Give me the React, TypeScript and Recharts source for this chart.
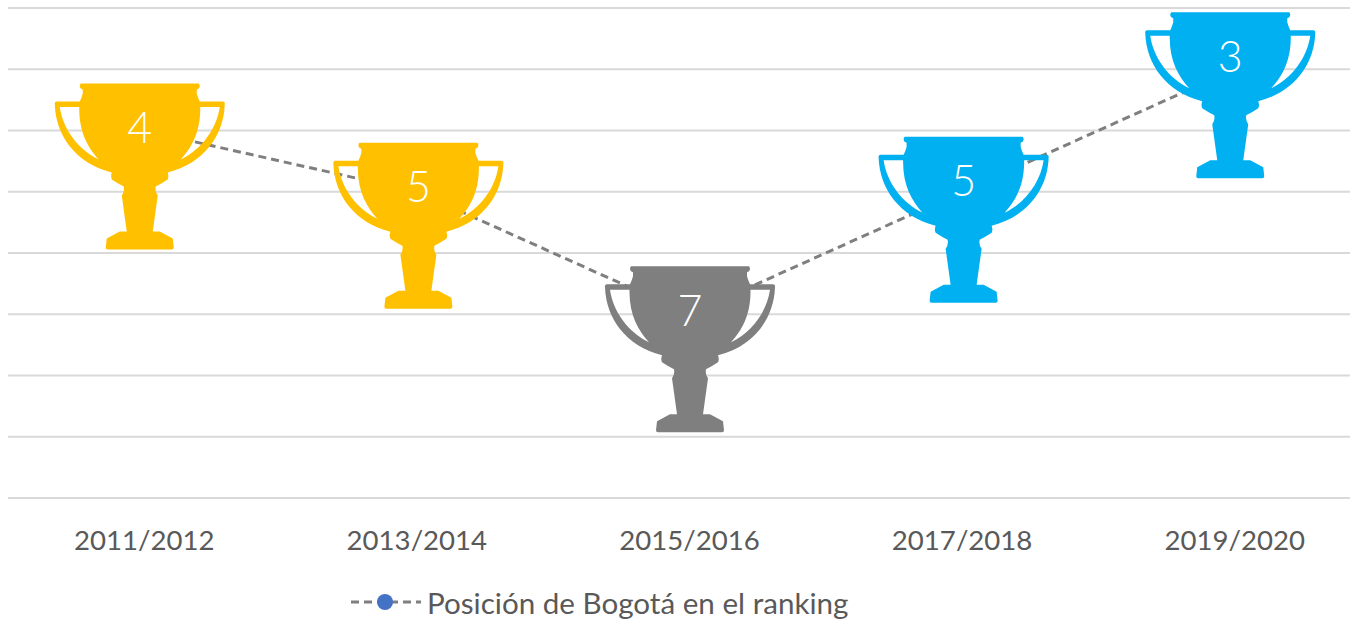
import React from "react";
import { LineChart, Line, XAxis, YAxis, CartesianGrid, Legend } from "recharts";

const seasons = ["2011/2012", "2013/2014", "2015/2016", "2017/2018", "2019/2020"];
const rankings = [4, 5, 7, 5, 3];
const seriesName = "Posición de Bogotá en el ranking";
const rankTicks = [2, 3, 4, 5, 6, 7, 8, 9, 10];

const trophyColors = ["#FFC000", "#FFC000", "#7F7F7F", "#00B0F0", "#00B0F0"];
const trophyNudgeX = [-4.5, 1.5, 0.5, 1.5, -4.5];
const trophyNudgeY = [-47, -49, -48, -55, -57];

const rows = seasons.map((season, i) => ({ season, rank: rankings[i] }));

const FONT = "Lato, 'Open Sans', sans-serif";
const TEXT = "#595959";
const LINE = "#7F7F7F";

const TROPHY =
  "M-59,0 L59,0 Q61,2.5 59,5 L57,6 L57,10 Q58,14 60,18 L83,18 Q85.5,18 85,21 C84,52 64,80 28,89 " +
  "Q29.5,93 28,96 Q22,100 16,103 Q15,108 18,112 L13,148 L20,148 L33,155 L34,164 Q34,166 32,166 " +
  "L-32,166 Q-34,166 -34,164 L-33,155 L-20,148 L-13,148 L-18,112 Q-15,108 -16,103 Q-22,100 -28,96 " +
  "Q-29.5,93 -28,89 C-64,80 -84,52 -85,21 Q-85.5,18 -83,18 L-60,18 Q-58,14 -57,10 L-57,6 L-59,5 Q-61,2.5 -59,0 Z " +
  "M-80,23.5 L-60.5,23.5 C-61,48 -52,64 -41,76 C-62,66 -77,45 -80,23.5 Z " +
  "M80,23.5 L60.5,23.5 C61,48 52,64 41,76 C62,66 77,45 80,23.5 Z";

const TrophyDot = (props: any) => {
  const { cx, cy, index, payload } = props;
  const x = cx + trophyNudgeX[index];
  const y = cy + trophyNudgeY[index];
  return (
    <g transform={`translate(${x},${y})`}>
      <path d={TROPHY} fill={trophyColors[index]} fillRule="evenodd" />
      <text x={0} y={43} textAnchor="middle" dominantBaseline="central" fill="#FFFFFF" fontSize={43} fontWeight={300} fontFamily={FONT}>
        {payload.rank}
      </text>
    </g>
  );
};

const LegendContent = (props: any) => {
  const entry = props.payload?.[0];
  return (
    <div style={{ display: "flex", alignItems: "center", fontFamily: FONT, fontSize: 29.6, color: TEXT, height: 40, marginTop: 13 }}>
      <svg width={72} height={20} style={{ marginRight: 4 }}>
        <line x1={0} y1={10} x2={70} y2={10} stroke={LINE} strokeWidth={3} strokeDasharray="8 5" />
        <circle cx={34} cy={10} r={8} fill="#4472C4" />
      </svg>
      <span>{entry?.value}</span>
    </div>
  );
};

export default function App() {
  return (
    <div style={{ position: "absolute", left: 0, top: 0, width: 1350, height: 619, overflow: "hidden", background: "#fff" }}>
      <LineChart width={1371} height={619} data={rows} margin={{ top: 8, right: 0, bottom: 0, left: 8 }}>
        <CartesianGrid horizontal vertical={false} stroke="#D9D9D9" strokeWidth={2} />
        <XAxis
          dataKey="season"
          padding={{ left: 136.25, right: 136.25 }}
          axisLine={false}
          tickLine={false}
          height={71}
          tickMargin={26}
          tick={{ fill: TEXT, fontSize: 27.6, fontFamily: FONT }}
          interval={0}
        />
        <YAxis hide reversed domain={[2, 10]} ticks={rankTicks} width={0} />
        <Legend
          verticalAlign="bottom"
          height={50}
          content={<LegendContent />}
          wrapperStyle={{ left: 351, width: 560, bottom: 0 }}
        />
        <Line
          dataKey="rank"
          name={seriesName}
          stroke={LINE}
          strokeWidth={3}
          strokeDasharray="8 5"
          dot={<TrophyDot />}
          activeDot={false}
          isAnimationActive={false}
        />
      </LineChart>
    </div>
  );
}
